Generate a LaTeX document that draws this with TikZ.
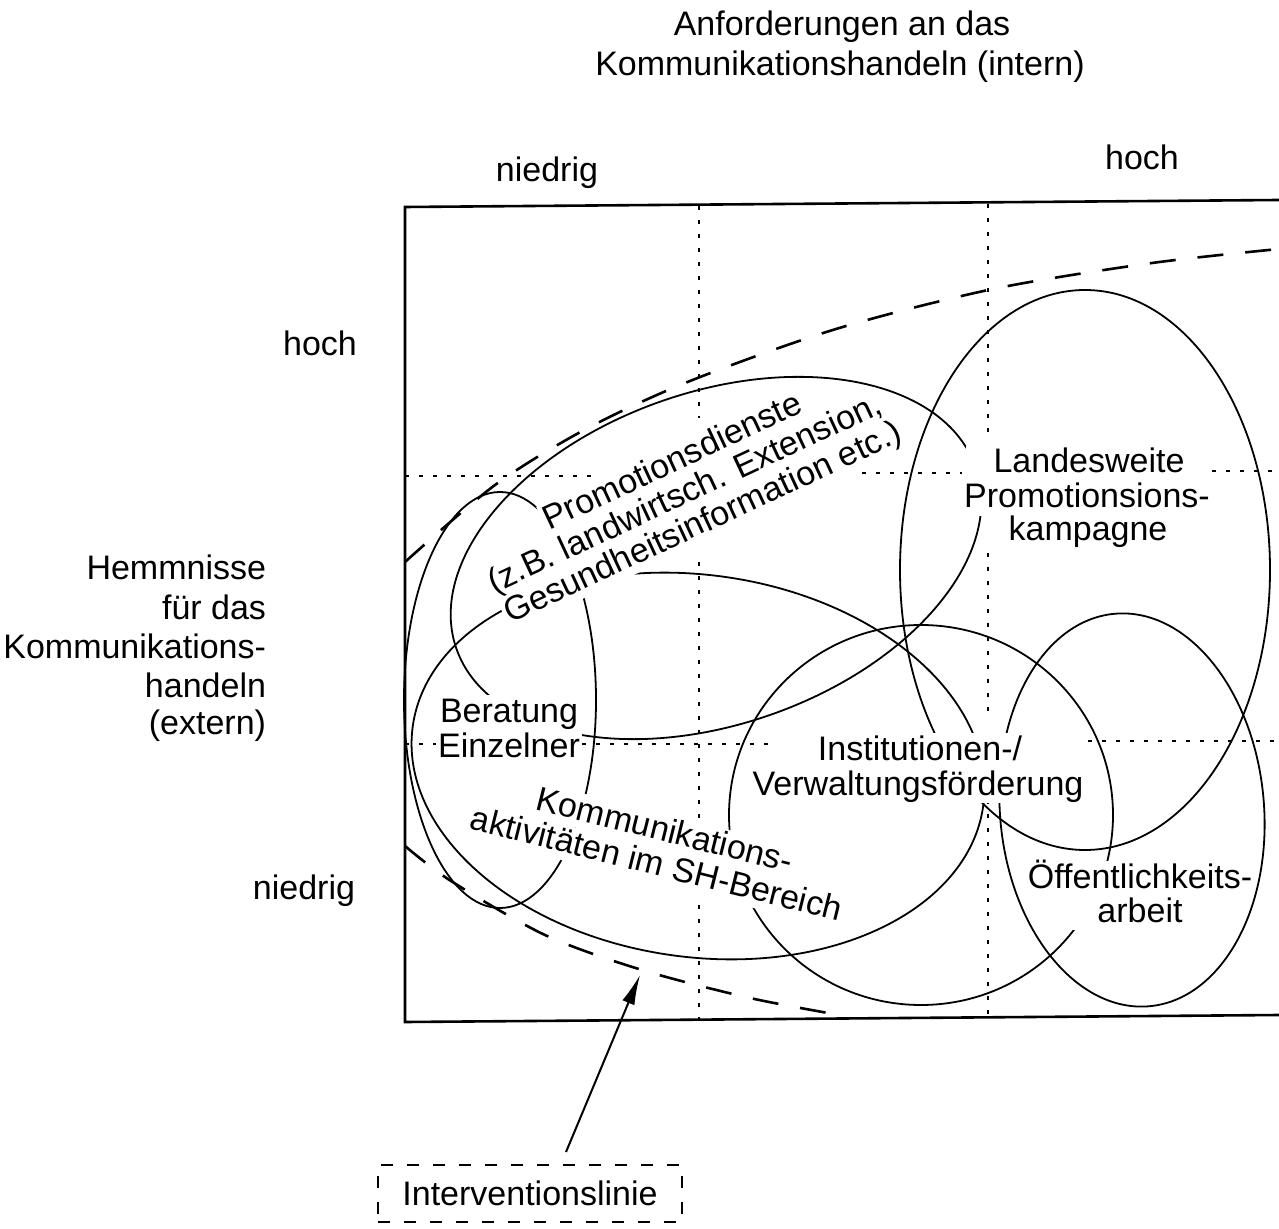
\documentclass[tikz,border=0pt]{standalone}
\usepackage{fontspec}
\setmainfont{Liberation Sans}
\usetikzlibrary{arrows.meta}
\begin{document}
\begin{tikzpicture}[x=0.5pt,y=-0.5pt,
  every node/.style={font=\fontsize{17pt}{20pt}\selectfont, inner sep=1pt, outer sep=0pt},
  lbl/.style={fill=white, text height=12.5pt, text depth=3pt},
  curve/.style={line width=0.9pt},
  grid/.style={line width=1pt, dash pattern=on 2pt off 5pt},
  frame/.style={line width=1.3pt},
  interv/.style={line width=1.3pt, dash pattern=on 13pt off 11pt},
  ivbox/.style={draw, line width=0.9pt, dash pattern=on 6pt off 7pt, minimum width=152pt, minimum height=28.5pt},
]
\useasboundingbox (0,0) rectangle (1279,1229);

% frame (right side lies outside the picture)
\draw[frame] (1279,200) -- (405,207) -- (405,1022) -- (1279,1015);

% grid lines
\draw[grid] (699,206) -- (699,418);
\draw[grid] (699,562) -- (699,818);
\draw[grid] (699,905) -- (699,1019);
\draw[grid] (988,204) -- (988,435);
\draw[grid] (988,553) -- (988,712);
\draw[grid] (988,800) -- (988,1017);
\draw[grid] (405,476) -- (600,476);
\draw[grid] (862,473) -- (962,473);
\draw[grid] (1198,471) -- (1279,471);
\draw[grid] (405,744) -- (437,744);
\draw[grid] (582,744) -- (773,744);
\draw[grid] (1088,741) -- (1279,741);

% intervention line
\draw[interv] plot[smooth] coordinates {(405,562) (495,485) (586,429) (690,381) (836,329) (993,289) (1152,263) (1279,249)};
\draw[interv] plot[smooth] coordinates {(405,846) (451,881) (545,935) (642,970) (750,998) (845,1016)};

% ellipses
\draw[curve,shift={(716,558)},rotate=19.3] (0,0) ellipse [x radius=275,y radius=166];
\draw[curve,shift={(500,700)}] (0,0) ellipse [x radius=96,y radius=208];
\draw[curve,shift={(698,766)},rotate=-8] (0,0) ellipse [x radius=288,y radius=191];
\draw[curve,shift={(1085,570)}] (0,0) ellipse [x radius=185,y radius=280];
\draw[curve,shift={(921,815)}] (0,0) ellipse [x radius=192,y radius=190];
\draw[curve,shift={(1132,810)},rotate=5] (0,0) ellipse [x radius=132,y radius=197];

% axis labels
\node[anchor=base] (t1) at (842,36) {Anforderungen an das};
\node[anchor=base] (t2) at (840,76) {Kommunikationshandeln (intern)};
\node[anchor=base] (xlo) at (547,182) {niedrig};
\node[anchor=base] (xhi) at (1142,170) {hoch};
\node[anchor=base] (yhi) at (320,356) {hoch};
\node[anchor=base east] (h1) at (268,580) {Hemmnisse};
\node[anchor=base east] (h2) at (268,619) {für das};
\node[anchor=base east] (h3) at (268,658) {Kommunikations-};
\node[anchor=base east] (h4) at (268,697) {handeln};
\node[anchor=base east] (h5) at (268,734) {(extern)};
\node[anchor=base] (ylo) at (304,899) {niedrig};

% field labels
\node[lbl, anchor=base, rotate=25] (p3) at (707,532) {Gesundheitsinformation etc.)};
\node[lbl, anchor=base, rotate=25] (p2) at (689,503) {(z.B. landwirtsch. Extension,};
\node[lbl, anchor=base, rotate=25] (p1) at (677,471) {Promotionsdienste};

\node[lbl, anchor=base, minimum width=123pt] (l1) at (1089,473) {Landesweite};
\node[lbl, anchor=base] (l2) at (1087,508) {Promotionsions-};
\node[lbl, anchor=base] (l3) at (1088,541) {kampagne};

\node[lbl, anchor=base] (b1) at (509,722) {Beratung};
\node[lbl, anchor=base] (b2) at (509,757) {Einzelner};

\node[lbl, anchor=base] (i1) at (920,760) {Institutionen-/};
\node[lbl, anchor=base] (i2) at (918,795) {Verwaltungsförderung};

\node[lbl, anchor=base, rotate=-14] (k2) at (654,875) {aktivitäten im SH-Bereich};
\node[lbl, anchor=base, rotate=-14] (k1) at (662,841) {Kommunikations-};

\node[lbl, anchor=base] (o1) at (1140,888) {Öffentlichkeits-};
\node[lbl, anchor=base, minimum width=68pt] (o2) at (1140,922) {arbeit};

% legend
\node[ivbox] (iv) at (530,1193.5) {Interventionslinie};
\coordinate (ivtip) at (640,975);
\draw[line width=1pt, -{Latex[length=15pt,width=6.5pt]}] ([xshift=18pt,yshift=6.5pt]iv.north) -- (ivtip);
\end{tikzpicture}
\end{document}
